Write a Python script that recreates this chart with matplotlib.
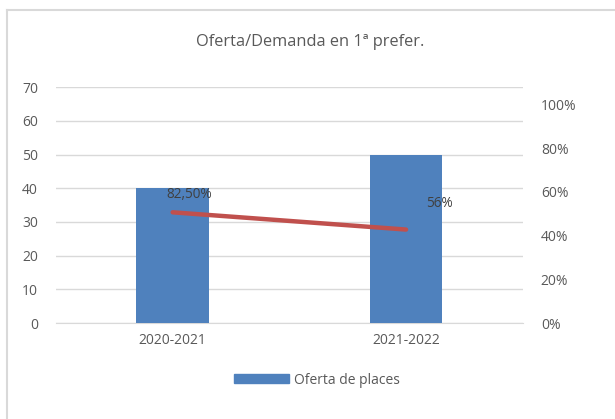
import matplotlib
matplotlib.use('Agg')
import matplotlib.pyplot as plt
from matplotlib.lines import Line2D
from matplotlib.patches import Patch
import numpy as np

plt.rcParams['font.family'] = ['Open Sans', 'DejaVu Sans']

# data
cursos = ['2020-2021', '2021-2022']
oferta = [40, 50]
ratio = [0.507, 0.428]          # line position on the right axis
ratio_labels = ['82,50%', '56%']  # labels as printed on the chart
label_offsets = [(12, 13), (24, 19)]  # points

text_color = '#595959'
grid_color = '#D9D9D9'

fig = plt.figure(figsize=(6.15, 4.19), dpi=100)
ax = fig.add_axes([0.091, 0.229, 0.759, 0.563])
ax2 = ax.twinx()

x = np.arange(len(cursos))
ax.bar(x, oferta, width=0.31, color='#4F81BD', zorder=3)
ax.set_xlim(-0.5, 1.5)
ax.set_ylim(0, 70)
ax.set_yticks(range(0, 71, 10))
ax.set_xticks(x)
ax.set_xticklabels(cursos)
ax.grid(axis='y', color=grid_color, linewidth=1, zorder=0)
ax.set_axisbelow(True)

ax2.plot(x, ratio, color='#C0504D', linewidth=3.2, solid_capstyle='round', zorder=4)
ax2.set_ylim(0, 1.08)
ax2.set_yticks(np.arange(0, 1.01, 0.2))
ax2.set_yticklabels([f'{int(round(v * 100))}%' for v in np.arange(0, 1.01, 0.2)])
for xi, yi, lab, off in zip(x, ratio, ratio_labels, label_offsets):
    ax2.annotate(lab, (xi, yi), xytext=off, textcoords='offset points',
                 ha='center', va='center', fontsize=9.8, color='#404040')

for a in (ax, ax2):
    for s in a.spines.values():
        s.set_visible(False)
    a.tick_params(length=0, labelsize=10, colors=text_color)
ax.spines['bottom'].set_visible(True)
ax.spines['bottom'].set_color(grid_color)
ax.tick_params(axis='y', pad=13)
ax.tick_params(axis='x', pad=7)
ax2.tick_params(axis='y', pad=13)

fig.text(0.504, 0.9, 'Oferta/Demanda en 1ª prefer.', ha='center', va='center',
         fontsize=11.8, color=text_color)

fig.legend(handles=[Patch(color='#4F81BD')], labels=['Oferta de places'],
           loc='center', bbox_to_anchor=(0.515, 0.093), frameon=False,
           fontsize=10, handlelength=4.0, handleheight=0.6, handletextpad=0.3,
           labelcolor=text_color)

# outer chart border (top and left visible)
fig.add_artist(Line2D([0.011, 1.0], [0.976, 0.976], color='#D9D9D9', linewidth=1.5))
fig.add_artist(Line2D([0.011, 0.011], [0.0, 0.976], color='#D9D9D9', linewidth=1.5))

fig.savefig('out.png', dpi=100)
